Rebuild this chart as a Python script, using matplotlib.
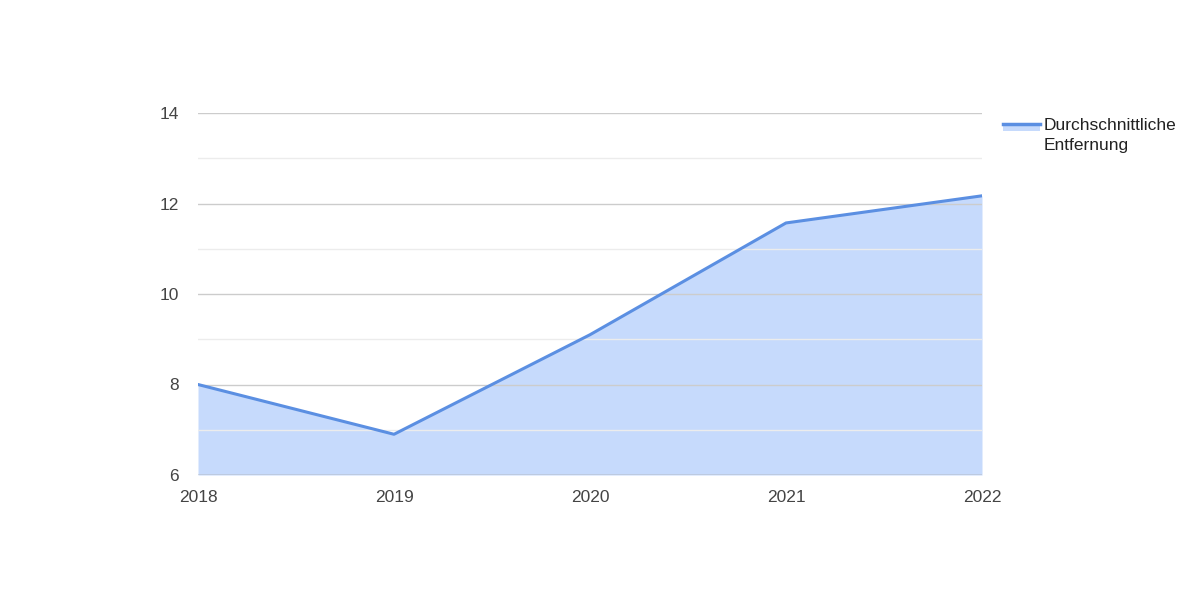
import matplotlib.pyplot as plt
from matplotlib.lines import Line2D
from matplotlib.patches import Rectangle

plt.rcParams['font.family'] = ['Liberation Sans', 'DejaVu Sans']

years = [2018, 2019, 2020, 2021, 2022]
distance = [8.0, 6.9, 9.1, 11.57, 12.17]
series_label = "Durchschnittliche\nEntfernung"

line_color = "#5b8fe2"
fill_color = "#c6dafc"

W, H = 1179, 589
fig = plt.figure(figsize=(W / 100, H / 100), dpi=100)
ax = fig.add_axes([198 / W, 1 - 475 / H, 784 / W, 362 / H])

ax.fill_between(years, distance, 6, color=fill_color, lw=0, zorder=1)
ax.plot(years, distance, color=line_color, lw=2.2, zorder=3, solid_capstyle='round')

ax.set_xlim(2018, 2022)
ax.set_ylim(6, 14)
ax.set_xticks(years)
ax.set_yticks([6, 8, 10, 12, 14])
ax.set_yticks([7, 9, 11, 13], minor=True)
ax.grid(True, which='major', axis='y', color='#cccccc', lw=1, zorder=2)
ax.grid(True, which='minor', axis='y', color='#ececec', lw=1, zorder=2)
ax.set_axisbelow(False)
for s in ax.spines.values():
    s.set_visible(False)
ax.axhline(6, color='#999999', lw=1, zorder=4)
ax.tick_params(axis='both', which='both', length=0, labelsize=12.5, labelcolor='#444444')
ax.tick_params(axis='y', pad=14)
ax.tick_params(axis='x', pad=11)

# legend drawn by hand so the key sits beside the first text line
fig.add_artist(Rectangle((1003 / W, 1 - 131 / H), 37 / W, 8 / H,
                         transform=fig.transFigure, facecolor=fill_color, edgecolor='none'))
fig.add_artist(Line2D([1003 / W, 1040 / W], [1 - 124 / H, 1 - 124 / H],
                      transform=fig.transFigure, color=line_color, lw=2.5))
fig.text(1044 / W, 1 - 118 / H, series_label, fontsize=12.5, color='#222222',
         va='top', ha='left', linespacing=1.45)

fig.savefig('out.png', dpi=100)
